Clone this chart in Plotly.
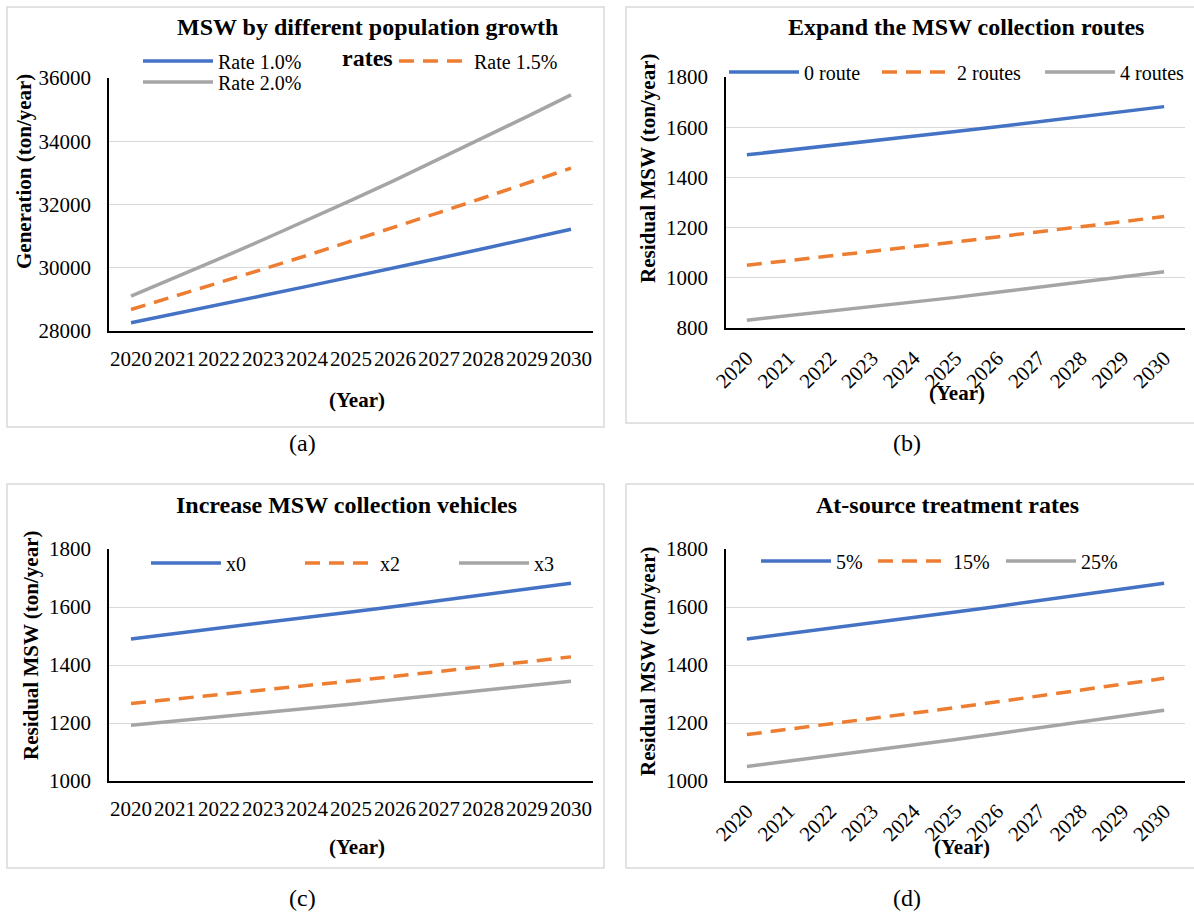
import plotly.graph_objects as go

W, H = 1194, 912

years = list(range(2020, 2031))
year_labels = [str(y) for y in years]

# (a) MSW by different population growth rates (ton/year)
rate_10 = [28260, 28540, 28830, 29120, 29410, 29700, 30000, 30300, 30600, 30910, 31215]
rate_15 = [28680, 29100, 29520, 29955, 30390, 30835, 31285, 31745, 32205, 32675, 33150]
rate_20 = [29105, 29685, 30280, 30885, 31500, 32130, 32770, 33430, 34100, 34780, 35465]

# (b) Expand the MSW collection routes
route_0 = [1490, 1508, 1527, 1545, 1564, 1583, 1602, 1622, 1642, 1662, 1682]
route_2 = [1050, 1068, 1086, 1105, 1124, 1143, 1163, 1183, 1203, 1223, 1244]
route_4 = [831, 849, 866, 885, 903, 922, 942, 962, 982, 1003, 1024]

# (c) Increase MSW collection vehicles
veh_x0 = [1490, 1508, 1527, 1545, 1564, 1583, 1602, 1622, 1642, 1662, 1682]
veh_x2 = [1267, 1282, 1298, 1313, 1329, 1345, 1361, 1378, 1394, 1411, 1428]
veh_x3 = [1192, 1206, 1221, 1235, 1250, 1265, 1281, 1296, 1312, 1328, 1344]

# (d) At-source treatment rates
src_5 = [1490, 1508, 1527, 1545, 1564, 1583, 1602, 1622, 1642, 1662, 1682]
src_15 = [1160, 1178, 1196, 1215, 1234, 1253, 1273, 1293, 1313, 1333, 1354]
src_25 = [1050, 1068, 1086, 1105, 1124, 1143, 1163, 1183, 1203, 1223, 1244]

BLUE, ORANGE, GRAY = "#4472C4", "#ED7D31", "#A5A5A5"
FONT = "Liberation Serif"
GRID = "#D9D9D9"


def fx(p):
    return p / W


def fy(p):
    return 1 - p / H


fig = go.Figure()

# panel layout in pixels: (x0, x1, ytop, ybottom)
panels = [
    dict(ax="", plot=(109, 593, 78, 331), yr=(28000, 36000), dt=2000, angle=0,
         series=[("Rate 1.0%", rate_10, BLUE, "solid"), ("Rate 1.5%", rate_15, ORANGE, "dash"),
                 ("Rate 2.0%", rate_20, GRAY, "solid")],
         legpos=[(143, 61), (399, 61), (143, 82)],
         title=["MSW by different population growth", "rates"], tpos=[(367, 27), (367, 58)],
         ytitle="Generation (ton/year)", ytpos=(24, 172), xtpos=(357, 400),
         lab="(a)", labpos=(302, 443), frame=(7, 604, 7, 427)),
    dict(ax="2", plot=(726, 1185, 77, 328), yr=(800, 1800), dt=200, angle=-45,
         series=[("0 route", route_0, BLUE, "solid"), ("2 routes", route_2, ORANGE, "dash"),
                 ("4 routes", route_4, GRAY, "solid")],
         legpos=[(729, 72), (882, 72), (1045, 72)],
         title=["Expand the MSW collection routes"], tpos=[(966, 27)],
         ytitle="Residual MSW (ton/year)", ytpos=(648, 169), xtpos=(957, 393),
         lab="(b)", labpos=(907, 443), frame=(626, 1196, 7, 423)),
    dict(ax="3", plot=(109, 593, 549, 781), yr=(1000, 1800), dt=200, angle=0,
         series=[("x0", veh_x0, BLUE, "solid"), ("x2", veh_x2, ORANGE, "dash"),
                 ("x3", veh_x3, GRAY, "solid")],
         legpos=[(151, 563), (305, 563), (459, 563)],
         title=["Increase MSW collection vehicles"], tpos=[(346, 505)],
         ytitle="Residual MSW (ton/year)", ytpos=(31, 646), xtpos=(357, 847),
         lab="(c)", labpos=(302, 898), frame=(7, 604, 484, 868)),
    dict(ax="4", plot=(726, 1185, 549, 781), yr=(1000, 1800), dt=200, angle=-45,
         series=[("5%", src_5, BLUE, "solid"), ("15%", src_15, ORANGE, "dash"),
                 ("25%", src_25, GRAY, "solid")],
         legpos=[(761, 561), (878, 561), (1006, 561)],
         title=["At-source treatment rates"], tpos=[(947, 505)],
         ytitle="Residual MSW (ton/year)", ytpos=(648, 662), xtpos=(962, 847),
         lab="(d)", labpos=(907, 898), frame=(626, 1196, 484, 868)),
]

annotations = []
shapes = []
leg_idx = 0
for p in panels:
    ax = p["ax"]
    x0, x1, yt, yb = p["plot"]
    for (name, vals, col, dash), (lx, ly) in zip(p["series"], p["legpos"]):
        leg_idx += 1
        lname = "legend" if leg_idx == 1 else f"legend{leg_idx}"
        fig.add_trace(go.Scatter(
            x=years, y=vals, mode="lines", name=name,
            line=dict(color=col, width=3.5, dash=("15px,9px" if dash == "dash" else "solid")),
            xaxis="x" + ax, yaxis="y" + ax, legend=lname, showlegend=True))
        fig.update_layout(**{lname: dict(
            x=fx(lx - 5), y=fy(ly), xanchor="left", yanchor="middle",
            bgcolor="rgba(0,0,0,0)", borderwidth=0, itemwidth=70,
            font=dict(family=FONT, size=20, color="#000"), tracegroupgap=0)})
    xa = dict(domain=[fx(x0), fx(x1)], range=[2019.5, 2030.5], tickmode="array",
              tickvals=years, ticktext=year_labels, tickangle=p["angle"], showgrid=False,
              showline=True, linecolor="#000", linewidth=1.5, ticks="", zeroline=False,
              anchor="y" + ax, tickfont=dict(family=FONT, size=21, color="#000"),
              ticklabelstandoff=8)
    ya = dict(domain=[fy(yb), fy(yt)], range=list(p["yr"]), dtick=p["dt"], tick0=0,
              tickformat="d", showgrid=True, gridcolor=GRID, gridwidth=1.3, showline=True,
              linecolor="#000", linewidth=1.5, ticks="", zeroline=False, anchor="x" + ax,
              tickfont=dict(family=FONT, size=21, color="#000"), ticklabelstandoff=12)
    fig.update_layout(**{"xaxis" + ax: xa, "yaxis" + ax: ya})
    for t, (tx, ty) in zip(p["title"], p["tpos"]):
        annotations.append(dict(text=f"<b>{t}</b>", x=fx(tx), y=fy(ty), xref="paper", yref="paper",
                                showarrow=False, xanchor="center", yanchor="middle",
                                font=dict(family=FONT, size=24, color="#000")))
    annotations.append(dict(text=f"<b>{p['ytitle']}</b>", x=fx(p["ytpos"][0]), y=fy(p["ytpos"][1]),
                            xref="paper", yref="paper", showarrow=False, textangle=-90,
                            xanchor="center", yanchor="middle",
                            font=dict(family=FONT, size=21, color="#000")))
    annotations.append(dict(text="<b>(Year)</b>", x=fx(p["xtpos"][0]), y=fy(p["xtpos"][1]),
                            xref="paper", yref="paper", showarrow=False,
                            xanchor="center", yanchor="middle",
                            font=dict(family=FONT, size=21, color="#000")))
    annotations.append(dict(text=p["lab"], x=fx(p["labpos"][0]), y=fy(p["labpos"][1]),
                            xref="paper", yref="paper", showarrow=False,
                            xanchor="center", yanchor="middle",
                            font=dict(family=FONT, size=24, color="#000")))
    fxa, fxb, fya, fyb = p["frame"]
    shapes.append(dict(type="rect", xref="paper", yref="paper", x0=fx(fxa), x1=fx(fxb),
                       y0=fy(fyb), y1=fy(fya), line=dict(color=GRID, width=1.5), layer="below"))

fig.update_layout(width=W, height=H,
                  margin=dict(l=0, r=0, t=0, b=0, pad=0, autoexpand=False),
                  paper_bgcolor="#fff", plot_bgcolor="rgba(0,0,0,0)",
                  annotations=annotations, shapes=shapes, showlegend=True,
                  font=dict(family=FONT, color="#000"))

fig.write_html("out.html", config={"displayModeBar": False},
               post_script="document.body.style.margin='0px';document.body.style.overflow='hidden';")
